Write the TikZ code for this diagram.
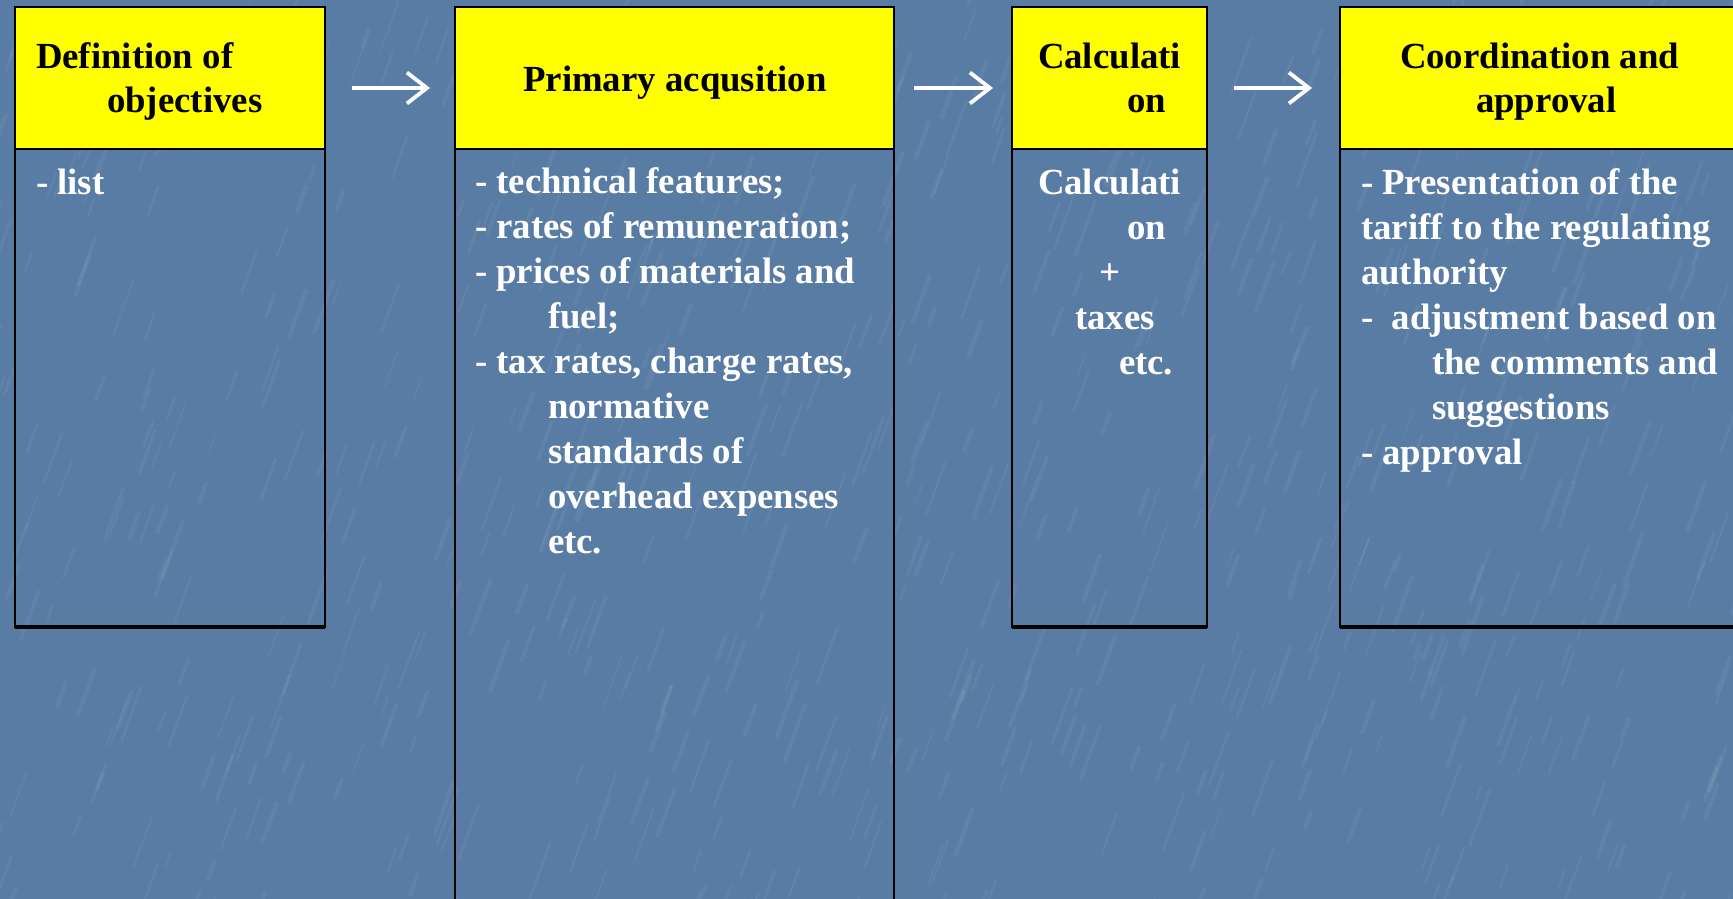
\documentclass[tikz,border=0pt]{standalone}
\usepackage{fontspec}
\setmainfont{Liberation Serif}
\usetikzlibrary{arrows.meta}
\definecolor{bg}{RGB}{88,124,164}
\definecolor{hdr}{RGB}{255,255,0}
\begin{document}
\begin{tikzpicture}[x=1pt,y=-1pt,
  panel/.style={draw=black, line width=2.2pt, inner sep=0pt, outer sep=0pt, anchor=north west},
  head/.style={panel, fill=hdr},
  ln/.style={anchor=base west, inner sep=0pt, outer sep=0pt, text=white,
             font=\fontsize{36.8}{45}\selectfont\bfseries},
  hl/.style={ln, text=black},
  streak/.style={white, opacity=0.05, line cap=round},
  flow/.style={white, line width=3.8pt, -{Straight Barb[length=20pt,width=31pt,line width=3.8pt]}}]
\useasboundingbox (0,0) rectangle (1733,899);
\clip (0,0) rectangle (1733,899);
\fill[bg] (0,0) rectangle (1733,899);
% background texture
\pgfmathsetseed{4711}
\foreach \i in {1,...,700}{
  \pgfmathsetmacro{\sx}{rnd*1760-15}
  \pgfmathsetmacro{\sy}{rnd*930-15}
  \pgfmathsetmacro{\sl}{15+rnd*45}
  \pgfmathsetmacro{\sw}{1.5+rnd*3}
  \draw[streak, line width=\sw pt] (\sx,\sy) -- ++(110:\sl);
}

% column 1
\node[panel, minimum width=310pt, minimum height=620pt] (b1) at (15,7) {};
\node[head, minimum width=310pt, minimum height=142pt] (h1) at (15,7) {};
\draw[line width=3.2pt] (b1.south west) -- (b1.south east);
\node[hl] (h1a) at (36,69) {Definition of};
\node[hl] (h1b) at (107,113) {objectives};
\node[ln] (t1a) at (36,194) {- list};

% column 2
\node[panel, minimum width=439pt, minimum height=920pt] (b2) at (455,7) {};
\node[head, minimum width=439pt, minimum height=142pt] (h2) at (455,7) {};
\node[hl, anchor=base] (h2a) at (675,92) {Primary acqusition};
\node[ln] (t2a) at (475,193) {- technical features;};
\node[ln] (t2b) at (475,238) {- rates of remuneration;};
\node[ln] (t2c) at (475,283) {- prices of materials and};
\node[ln] (t2d) at (548,328) {fuel;};
\node[ln] (t2e) at (475,373) {- tax rates, charge rates,};
\node[ln] (t2f) at (548,418) {normative};
\node[ln] (t2g) at (548,463) {standards of};
\node[ln] (t2h) at (548,508) {overhead expenses};
\node[ln] (t2i) at (548,553) {etc.};

% column 3
\node[panel, minimum width=195pt, minimum height=620pt] (b3) at (1012,7) {};
\node[head, minimum width=195pt, minimum height=142pt] (h3) at (1012,7) {};
\draw[line width=3.2pt] (b3.south west) -- (b3.south east);
\node[hl] (h3a) at (1038,69) {Calculati};
\node[hl] (h3b) at (1127,113) {on};
\node[ln] (t3a) at (1038,194) {Calculati};
\node[ln] (t3b) at (1127,239) {on};
\node[ln, anchor=base] (t3c) at (1110,284) {+};
\node[ln] (t3d) at (1075,329) {taxes};
\node[ln] (t3e) at (1119,374) {etc.};

% column 4
\node[panel, minimum width=420pt, minimum height=620pt] (b4) at (1340,7) {};
\node[head, minimum width=420pt, minimum height=142pt] (h4) at (1340,7) {};
\draw[line width=3.2pt] (b4.south west) -- (b4.south east);
\node[hl] (h4a) at (1400,69) {Coordination and};
\node[hl] (h4b) at (1476,113) {approval};
\node[ln] (t4a) at (1361,194) {- Presentation of the};
\node[ln] (t4b) at (1361,239) {tariff to the regulating};
\node[ln] (t4c) at (1361,284) {authority};
\node[ln] (t4d) at (1361,329) {- \ adjustment based on};
\node[ln] (t4e) at (1432,374) {the comments and};
\node[ln] (t4f) at (1432,419) {suggestions};
\node[ln] (t4g) at (1361,464) {- approval};

% arrows
\coordinate (a1s) at (352,88); \coordinate (a1e) at (430,88);
\coordinate (a2s) at (914,88); \coordinate (a2e) at (993,88);
\coordinate (a3s) at (1234,88); \coordinate (a3e) at (1312,88);
\draw[flow] (a1s) -- (a1e);
\draw[flow] (a2s) -- (a2e);
\draw[flow] (a3s) -- (a3e);
\end{tikzpicture}
\end{document}
